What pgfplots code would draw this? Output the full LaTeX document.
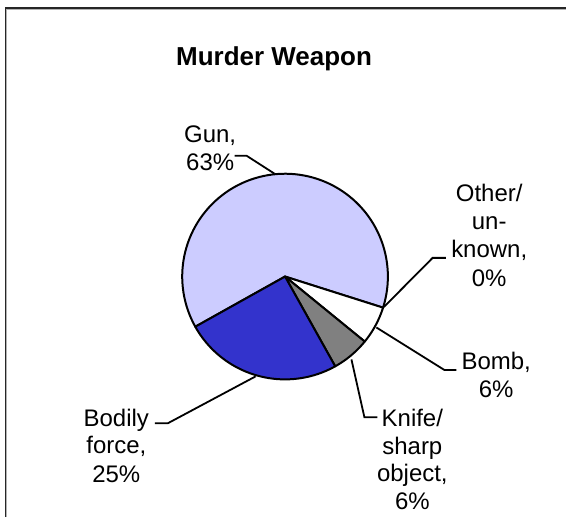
\documentclass[border=0pt]{standalone}
\usepackage{fontspec}
\setmainfont{Liberation Sans}
\usepackage{pgfplots}
\pgfplotsset{compat=1.18}
\usepackage{pgfplotstable}
\definecolor{gunc}{HTML}{CCCCFF}
\definecolor{bodc}{HTML}{3333CC}
\definecolor{knic}{HTML}{808080}
\definecolor{bomc}{HTML}{FFFFFF}

\pgfplotstableread{
weapon share
Gun 63
Other 0
Bomb 6
Knife 6
Bodily 25
}\shares

\pgfplotstablegetelem{0}{share}\of\shares \let\vGun\pgfplotsretval
\pgfplotstablegetelem{1}{share}\of\shares \let\vOther\pgfplotsretval
\pgfplotstablegetelem{2}{share}\of\shares \let\vBomb\pgfplotsretval
\pgfplotstablegetelem{3}{share}\of\shares \let\vKnife\pgfplotsretval
\pgfplotstablegetelem{4}{share}\of\shares \let\vBodily\pgfplotsretval

% angles (degrees), slices run clockwise from the start angle
\pgfmathsetmacro\aStart{209.2}
\pgfmathsetmacro\aGun{\aStart-3.6*\vGun}
\pgfmathsetmacro\aOther{\aGun-3.6*\vOther}
\pgfmathsetmacro\aBomb{\aOther-3.6*\vBomb}
\pgfmathsetmacro\aKnife{\aBomb-3.6*\vKnife}
\pgfmathsetmacro\aBodily{\aKnife-3.6*\vBodily}

\def\cx{285.5}
\def\cy{241}
\def\R{103}

\begin{document}
\begin{tikzpicture}
\begin{axis}[
  x=1pt, y=1pt,
  xmin=0, xmax=567, ymin=0, ymax=518,
  scale only axis, hide axis, clip=false,
  anchor=south west, at={(0,0)},
]
% frame
\draw[line width=1.8pt, black!85] (5.5,0) -- (5.5,510) -- (567,510);
\draw[line width=0.8pt, black!30] (6.4,0) -- (6.4,508.6) -- (567,508.6);

% slices
\addplot[fill=gunc, draw=black, line width=2pt, line join=round, domain=\aGun:\aStart, samples=90, variable=\t]
  ({\cx+\R*cos(\t)},{\cy+\R*sin(\t)}) -- (\cx,\cy) -- cycle;
\addplot[fill=bomc, draw=black, line width=2pt, line join=round, domain=\aBomb:\aOther, samples=20, variable=\t]
  ({\cx+\R*cos(\t)},{\cy+\R*sin(\t)}) -- (\cx,\cy) -- cycle;
\addplot[fill=knic, draw=black, line width=2pt, line join=round, domain=\aKnife:\aBomb, samples=20, variable=\t]
  ({\cx+\R*cos(\t)},{\cy+\R*sin(\t)}) -- (\cx,\cy) -- cycle;
\addplot[fill=bodc, draw=black, line width=2pt, line join=round, domain=\aBodily:\aKnife, samples=50, variable=\t]
  ({\cx+\R*cos(\t)},{\cy+\R*sin(\t)}) -- (\cx,\cy) -- cycle;

% leader lines
\begin{scope}[line width=1.8pt, line join=miter]
\draw (235,362) -- (247,362) -- (275,344);
\draw (446.7,259.7) -- (433.3,259.7) -- (384.5,210.5);
\draw (377,190) -- (445,147.5) -- (457,147.5);
\draw (352,158) -- (365,100) -- (378,100);
\draw (155,94) -- (168,94) -- (256,141);
\end{scope}

% title
\node[anchor=base, font=\fontsize{26}{30}\selectfont\bfseries] at (274.5,452.5) {Murder Weapon};

% labels
\begin{scope}[every node/.style={anchor=base, font=\fontsize{24}{28}\selectfont, inner sep=0pt}]
\node at (210.5,375) {Gun,};
\node at (210.5,347) {63\%};

\node at (490,316.3) {Other/};
\node at (490,288) {un-};
\node at (490,259.7) {known,};
\node at (490,231.3) {0\%};

\node at (497,148) {Bomb,};
\node at (497,119.7) {6\%};

\node at (413,91) {Knife/};
\node at (413,63) {sharp};
\node at (413,36) {object,};
\node at (413,8) {6\%};

\node at (116.5,91) {Bodily};
\node at (116.5,64) {force,};
\node at (116.5,35) {25\%};
\end{scope}
\end{axis}
\path (0,0) rectangle (567pt,518pt);
\end{tikzpicture}
\end{document}
